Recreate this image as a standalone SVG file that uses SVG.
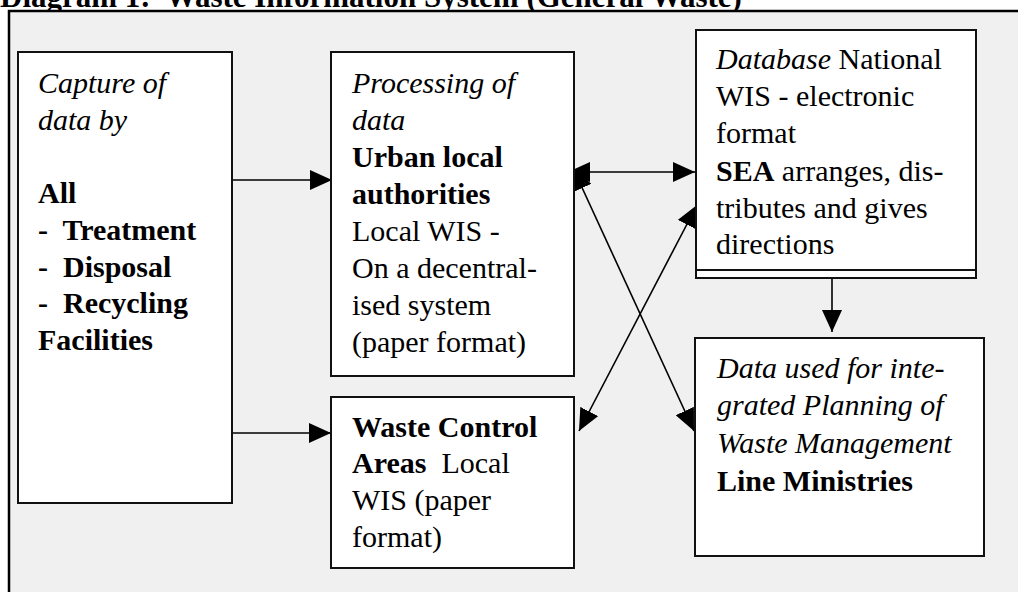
<svg xmlns="http://www.w3.org/2000/svg" width="1018" height="592" viewBox="0 0 1018 592">
<defs>
<style>
.t{font-family:"Liberation Serif","Tinos","Times New Roman","Nimbus Roman","DejaVu Serif",serif;font-size:30px;fill:#000}
.b{font-weight:bold}
.i{font-style:italic}
.box{fill:#fff;stroke:#111;stroke-width:2}
.con{stroke:#000;stroke-width:1.6;fill:none}
</style>
<marker id="ah" viewBox="0 0 22 20" refX="22" refY="10" markerWidth="22" markerHeight="20" markerUnits="userSpaceOnUse" orient="auto-start-reverse">
<path d="M0,0 L22,10 L0,20 Z" fill="#000"/>
</marker>
</defs>
<rect x="0" y="0" width="1018" height="592" fill="#fff"/>
<text class="t b" x="0" y="7" style="font-size:31px">Diagram 1:<tspan>&#160; Waste Information System (General Waste)</tspan></text>
<rect x="9" y="11" width="1020" height="600" fill="#f0f0f0" stroke="#000" stroke-width="2.5"/>

<g id="connectors">
<line class="con" x1="232" y1="180" x2="332" y2="180" marker-end="url(#ah)"/>
<line class="con" x1="232" y1="433" x2="331" y2="433" marker-end="url(#ah)"/>
<line class="con" x1="568" y1="172" x2="695" y2="172" marker-start="url(#ah)" marker-end="url(#ah)"/>
<line class="con" x1="573" y1="168" x2="694" y2="431" marker-start="url(#ah)" marker-end="url(#ah)"/>
<line class="con" x1="579" y1="431" x2="697" y2="205" marker-start="url(#ah)" marker-end="url(#ah)"/>
<line class="con" x1="832" y1="270" x2="832" y2="332" marker-end="url(#ah)"/>
</g>

<g id="capture">
<rect class="box" x="18" y="52" width="214" height="451"/>
<text class="t i" x="38" y="93">Capture of</text>
<text class="t i" x="38" y="130">data by</text>
<text class="t b" x="38" y="203">All</text>
<text class="t b" x="38" y="240">-&#160; Treatment</text>
<text class="t b" x="38" y="277">-&#160; Disposal</text>
<text class="t b" x="38" y="313">-&#160; Recycling</text>
<text class="t b" x="38" y="350">Facilities</text>
</g>

<g id="processing">
<rect class="box" x="331" y="52" width="243" height="324"/>
<text class="t i" x="352" y="93">Processing of</text>
<text class="t i" x="352" y="130">data</text>
<text class="t b" x="352" y="167">Urban local</text>
<text class="t b" x="352" y="204">authorities</text>
<text class="t" x="352" y="241">Local WIS -</text>
<text class="t" x="352" y="278">On a decentral-</text>
<text class="t" x="352" y="315">ised system</text>
<text class="t" x="352" y="352">(paper format)</text>
</g>

<g id="wastecontrol">
<rect class="box" x="331" y="397" width="243" height="171"/>
<text class="t b" x="352" y="437">Waste Control</text>
<text class="t" x="352" y="473"><tspan class="b">Areas</tspan>&#160; Local</text>
<text class="t" x="352" y="510">WIS (paper</text>
<text class="t" x="352" y="547">format)</text>
</g>

<g id="database">
<rect class="box" x="696" y="30" width="280" height="248"/>
<line x1="696" y1="270" x2="976" y2="270" stroke="#111" stroke-width="2"/>
<text class="t" x="716" y="69"><tspan class="i">Database</tspan> National</text>
<text class="t" x="716" y="106">WIS - electronic</text>
<text class="t" x="716" y="143">format</text>
<text class="t" x="716" y="181"><tspan class="b">SEA</tspan> arranges, dis-</text>
<text class="t" x="716" y="218">tributes and gives</text>
<text class="t" x="716" y="254">directions</text>
</g>

<g id="lineministries">
<rect class="box" x="695" y="338" width="289" height="218"/>
<text class="t i" x="717" y="378">Data used for inte-</text>
<text class="t i" x="717" y="415">grated Planning of</text>
<text class="t i" x="717" y="453">Waste Management</text>
<text class="t b" x="717" y="491">Line Ministries</text>
</g>
</svg>
